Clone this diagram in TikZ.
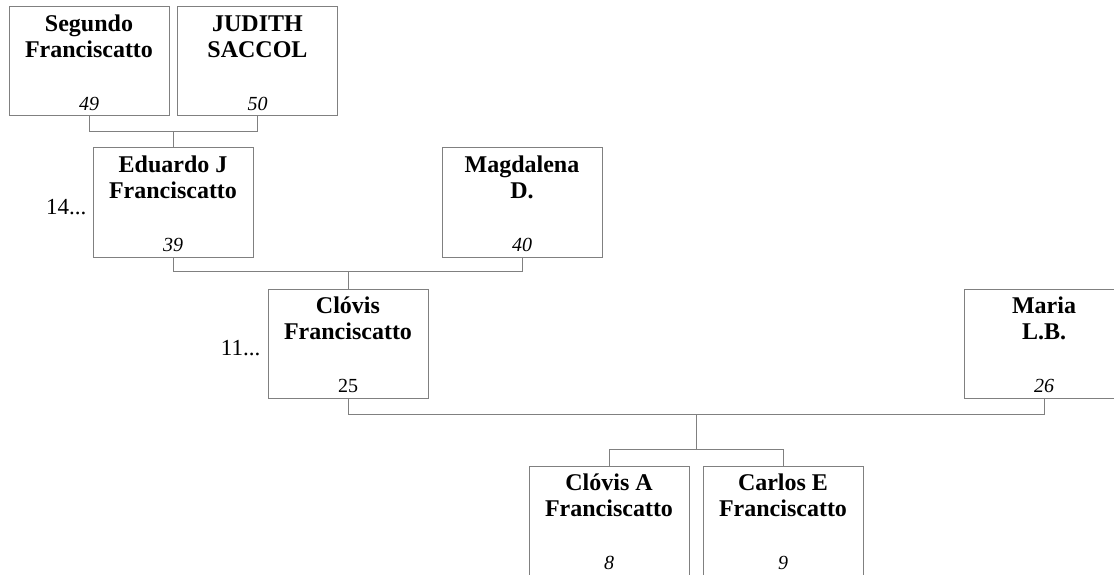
\documentclass[tikz,border=0pt]{standalone}
\usepackage{fontspec}
\setmainfont{Liberation Serif}
\usetikzlibrary{calc}
\definecolor{linegray}{RGB}{128,128,128}
\newcommand\namefont{\fontsize{24}{25.5}\selectfont\bfseries}
\newcommand\numfont{\fontsize{20}{24}\selectfont\itshape}
\newcommand\sidefont{\fontsize{23}{26}\selectfont}
\tikzset{
  person/.style={draw=linegray, line width=1pt, minimum width=160pt, minimum height=109pt, inner sep=0pt, fill=white},
  pname/.style={anchor=north, inner sep=0pt, align=center, font=\namefont},
  pnum/.style={anchor=base, inner sep=0pt, font=\numfont},
  side/.style={anchor=base east, inner sep=0pt, font=\sidefont},
  conn/.style={draw=linegray, line width=1pt}
}
\begin{document}
\begin{tikzpicture}[x=1pt,y=-1pt]
\clip (0,0) rectangle (1114,575);
\fill[white] (0,0) rectangle (1114,575);
% boxes
\node[person] (s)  at (89,61.5) {};
\node[person] (j)  at (257.5,61.5) {};
\node[person] (e)  at (173,202.5) {};
\node[person] (m)  at (522,202.5) {};
\node[person] (c)  at (348,343.5) {};
\node[person] (ml) at (1044,343.5) {};
\node[person] (ca) at (609,520.5) {};
\node[person] (cf) at (783,520.5) {};
% names
\node[pname] (sn)  at ($(s.north)+(0,7)$)  {\strut Segundo\\Franciscatto};
\node[pname] (jn)  at ($(j.north)+(0,7)$)  {\strut JUDITH\\SACCOL};
\node[pname] (en)  at ($(e.north)+(0,7)$)  {\strut Eduardo J\\Franciscatto};
\node[pname] (mn)  at ($(m.north)+(0,7)$)  {\strut Magdalena\\D.};
\node[pname] (cn)  at ($(c.north)+(0,7)$)  {\strut Clóvis\\Franciscatto};
\node[pname] (mln) at ($(ml.north)+(0,7)$) {\strut Maria\\L.B.};
\node[pname] (can) at ($(ca.north)+(0,7)$) {\strut Clóvis A\\Franciscatto};
\node[pname] (cfn) at ($(cf.north)+(0,7)$) {\strut Carlos E\\Franciscatto};
% numbers
\node[pnum] (s9)  at ($(s.south)+(0,-6)$)  {49};
\node[pnum] (j9)  at ($(j.south)+(0,-6)$)  {50};
\node[pnum] (e9)  at ($(e.south)+(0,-6)$)  {39};
\node[pnum] (m9)  at ($(m.south)+(0,-6)$)  {40};
\node[pnum,font=\fontsize{20}{24}\selectfont] (c9) at ($(c.south)+(0,-6)$) {25};
\node[pnum] (ml9) at ($(ml.south)+(0,-6)$) {26};
\node[pnum] (ca9) at ($(ca.south)+(0,-6)$) {8};
\node[pnum] (cf9) at ($(cf.south)+(0,-6)$) {9};
% side labels
\node[side] (e14) at ($(e.west)+(-6,11.5)$) {14...};
\node[side] (c11) at ($(c.west)+(-7,11.5)$) {11...};
% connectors
\draw[conn] (s.south) -- ++(0,15) coordinate (sjbar) -| (j.south);
\draw[conn] (e.north) -- (e.north |- sjbar);
\draw[conn] (e.south) -- ++(0,14) coordinate (embar) -| (m.south);
\draw[conn] (c.north) -- (c.north |- embar);
\draw[conn] (c.south) -- ++(0,16) coordinate (cmbar) -| (ml.south);
\coordinate (cmmid) at ($(c.south)!0.5!(ml.south)+(0,16)$);
\draw[conn] (ca.north) -- ++(0,-16) coordinate (kbar) -| (cf.north);
\draw[conn] (cmmid) -- (cmmid |- kbar);
\end{tikzpicture}
\end{document}
